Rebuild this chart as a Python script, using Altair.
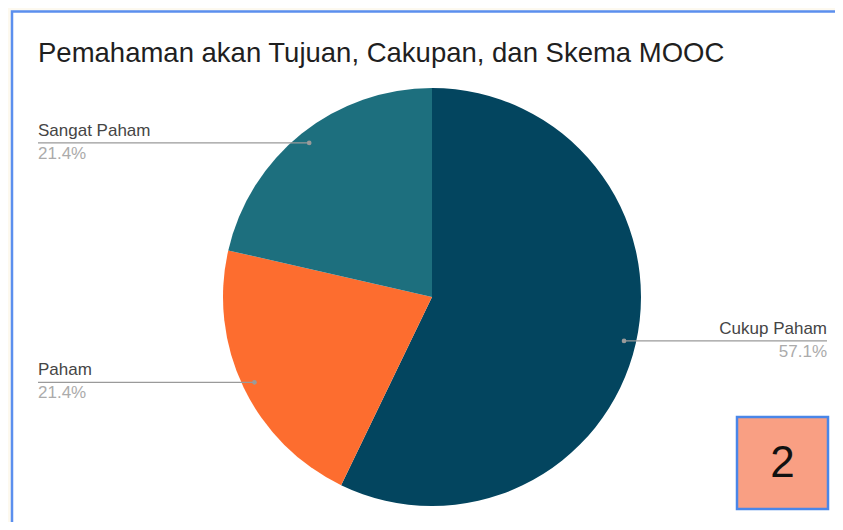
import altair as alt
import pandas as pd

# ---- data ----
categories = ["Cukup Paham", "Paham", "Sangat Paham"]
values = [57.1, 21.4, 21.4]
slice_order = [0, 1, 2]
colors = ["#03455f", "#fd6d2f", "#1d6f7e"]
title_text = "Pemahaman akan Tujuan, Cakupan, dan Skema MOOC"
badge_text = ["2"]

# ---- layout constants (chart coords = page - 8) ----
W, H = 827, 514
CX, CY, R = 424, 289, 209
RL = 197
LEFT_X, RIGHT_X = 30, 819
FONT = "Liberation Sans"

df = pd.DataFrame({"category": categories, "value": values, "order": slice_order})

frame = alt.Chart(pd.DataFrame({"a": [0]})).mark_rect(
    fill="white", stroke="#5b8fee", strokeWidth=2.5
).encode(x=alt.value(4), x2=alt.value(845), y=alt.value(3.5), y2=alt.value(530))

title = alt.Chart(pd.DataFrame({"t": [title_text]})).mark_text(
    align="left", baseline="alphabetic", font=FONT, fontSize=27.5, color="#1f1f1f"
).encode(text="t:N", x=alt.value(30), y=alt.value(54))

pie = alt.Chart(df).mark_arc(stroke=None).encode(
    theta=alt.Theta("value:Q", stack=True),
    color=alt.Color("category:N", scale=alt.Scale(domain=categories, range=colors), legend=None),
    order=alt.Order("order:Q"),
    x=alt.value(CX), y=alt.value(CY), radius=alt.value(R),
)

base = alt.Chart(df).transform_joinaggregate(
    total="sum(value)"
).transform_window(
    cum="sum(value)", sort=[alt.SortField("order")], frame=[None, 0]
).transform_calculate(
    mid="(datum.cum - datum.value/2)/datum.total",
).transform_calculate(
    px=f"{CX} + {RL}*sin(2*PI*datum.mid)",
    py=f"{CY} - {RL}*cos(2*PI*datum.mid)",
).transform_calculate(
    side=f"datum.px > {CX} ? 'right' : 'left'",
    lx=f"datum.px > {CX} ? {RIGHT_X} : {LEFT_X}",
    pct="format(datum.value, '.1f') + '%'",
)

rules = base.mark_rule(color="#9a9a9a", strokeWidth=1.2).encode(
    x=alt.X("px:Q", scale=None), x2="lx:Q", y=alt.Y("py:Q", scale=None)
)
dots = base.mark_circle(color="#9a9a9a", size=22, opacity=1).encode(
    x=alt.X("px:Q", scale=None), y=alt.Y("py:Q", scale=None)
)

def labels(side, align):
    b = base.transform_filter(f"datum.side == '{side}'")
    name = b.mark_text(align=align, baseline="alphabetic", dy=-7, font=FONT,
                       fontSize=17, color="#454545").encode(
        x=alt.X("lx:Q", scale=None), y=alt.Y("py:Q", scale=None), text="category:N")
    pct = b.mark_text(align=align, baseline="alphabetic", dy=16, font=FONT,
                      fontSize=17, color="#ababab").encode(
        x=alt.X("lx:Q", scale=None), y=alt.Y("py:Q", scale=None), text="pct:N")
    return name + pct

badge_box = alt.Chart(pd.DataFrame({"b": badge_text})).mark_rect(
    fill="#f99f83", stroke="#4a86e8", strokeWidth=2.5
).encode(x=alt.value(729), x2=alt.value(820), y=alt.value(409), y2=alt.value(501))
badge_label = alt.Chart(pd.DataFrame({"b": badge_text})).mark_text(
    font=FONT, fontSize=44, color="#111111", align="center", baseline="middle"
).encode(text="b:N", x=alt.value(774.5), y=alt.value(456))

chart = alt.layer(
    frame, title, pie, rules, dots, labels("left", "left"), labels("right", "right"),
    badge_box, badge_label
).properties(
    width=W, height=H, padding=0, autosize=alt.AutoSizeParams(type="none"),
    background="#fdf9ef"
).configure_view(stroke=None)

chart.save("out.html", embed_options={"renderer": "svg", "actions": False})
